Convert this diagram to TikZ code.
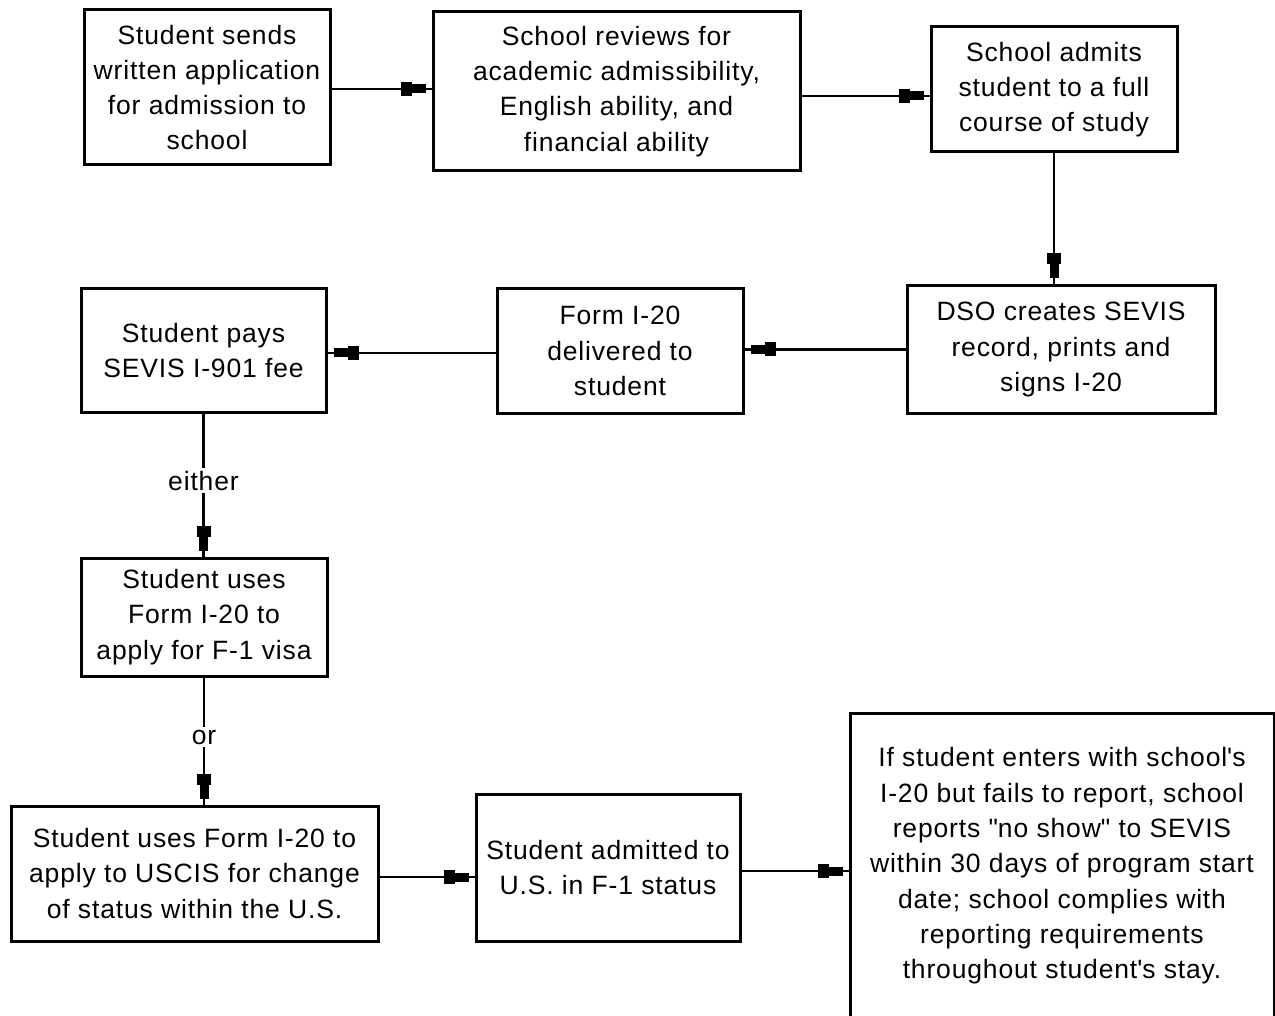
\documentclass[tikz,border=0pt]{standalone}
\usepackage{fontspec}
\setmainfont[LetterSpace=3.2]{Liberation Sans}
\usetikzlibrary{decorations.markings}
\tikzset{
  box/.style={draw=black, line width=3pt, fill=white, align=center, inner sep=0pt,
    font=\fontsize{26.5}{35.3}\selectfont},
  conn/.style={line width=2.6pt, line cap=butt},
  blk/.style={postaction={decorate}, decoration={markings,
    mark=at position 1 with {\fill[black] (-20pt,-4.5pt) rectangle (-6pt,4.5pt);
      \fill[black] (-31pt,-7pt) rectangle (-20pt,7pt);}}},
  lbl/.style={fill=white, inner sep=3pt, font=\fontsize{26.5}{35.3}\selectfont}
}
\begin{document}
\begin{tikzpicture}[x=1pt,y=-1pt]
\useasboundingbox (0,0) rectangle (1275,1016);
\clip (0,0) rectangle (1275,1016);
\fill[white] (0,0) rectangle (1275,1016);

\node[box, minimum width=246pt, minimum height=155pt] (a) at (207,87.5)
  {Student sends\\written application\\for admission to\\school};
\node[box, minimum width=367pt, minimum height=159pt] (b) at (616.5,91.5)
  {School reviews for\\academic admissibility,\\English ability, and\\financial ability};
\node[box, minimum width=246pt, minimum height=125pt] (c) at (1054,89.5)
  {School admits\\student to a full\\course of study};
\node[box, minimum width=308pt, minimum height=127pt] (d) at (1061,349.5)
  {DSO creates SEVIS\\record, prints and\\signs I-20};
\node[box, minimum width=246pt, minimum height=124pt] (e) at (620,351)
  {Form I-20\\delivered to\\student};
\node[box, minimum width=245pt, minimum height=123pt] (f) at (203.5,350.5)
  {Student pays\\SEVIS I-901 fee};
\node[box, minimum width=246pt, minimum height=118pt] (g) at (204,617)
  {Student uses\\Form I-20 to\\apply for F-1 visa};
\node[box, minimum width=367pt, minimum height=135pt] (h) at (194.5,873.5)
  {Student uses Form I-20 to\\apply to USCIS for change\\of status within the U.S.};
\node[box, minimum width=264pt, minimum height=147pt] (i) at (608,867.5)
  {Student admitted to\\U.S. in F-1 status};
\node[box, minimum width=424pt, minimum height=306pt] (j) at (1062,866)
  {If student enters with school\textquotesingle s\\I-20 but fails to report, school\\reports \textquotedbl no show\textquotedbl{} to SEVIS\\within 30 days of program start\\date; school complies with\\reporting requirements\\throughout student\textquotesingle s stay.};

\draw[conn, blk] ([yshift=-1.5pt]a.east) -- ([yshift=-1.5pt]a.east -| b.west);
\draw[conn, blk] ([yshift=-4.5pt]b.east) -- ([yshift=-4.5pt]b.east -| c.west);
\draw[conn, blk] (c.south) -- (c.south |- d.north);
\draw[conn, blk] (d.west) -- (d.west -| e.east);
\draw[conn, blk] ([yshift=-2pt]e.west) -- ([yshift=-2pt]e.west -| f.east);
\draw[conn, blk] (f.south) -- (f.south |- g.north) node[lbl, pos=0.47] (either) {either};
\draw[conn, blk] (g.south) -- (g.south |- h.north) node[lbl, pos=0.47] (or) {or};
\draw[conn, blk] ([yshift=-3.5pt]h.east) -- ([yshift=-3.5pt]h.east -| i.west);
\draw[conn, blk] ([yshift=-3.5pt]i.east) -- ([yshift=-3.5pt]i.east -| j.west);
\end{tikzpicture}
\end{document}
